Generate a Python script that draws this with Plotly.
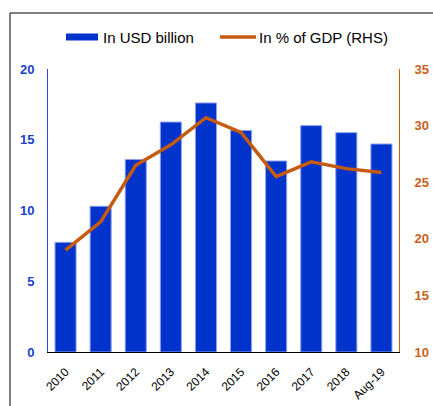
import plotly.graph_objects as go

categories = ["2010", "2011", "2012", "2013", "2014", "2015", "2016", "2017", "2018", "Aug-19"]
usd_billion = [7.75, 10.3, 13.6, 16.25, 17.6, 15.65, 13.5, 16.0, 15.5, 14.7]
pct_gdp = [19.0, 21.5, 26.5, 28.3, 30.7, 29.4, 25.5, 26.8, 26.2, 25.85]

BLUE = "#0033cc"
ORANGE = "#c55a11"
FONT = "Liberation Sans, Arial, sans-serif"

fig = go.Figure()
fig.add_trace(go.Bar(
    x=categories, y=usd_billion, name="In USD billion",
    marker=dict(color=BLUE, line=dict(color="#8fa0ee", width=1)),
    yaxis="y", showlegend=False,
))
fig.add_trace(go.Scatter(
    x=categories, y=pct_gdp, name="In % of GDP (RHS)", mode="lines",
    line=dict(color=ORANGE, width=3.5),
    yaxis="y2", showlegend=False,
))

W, H = 433, 406
L, R, T, B = 48, 399, 69, 352
pw, ph = R - L, B - T

def px(x):
    return (x - L) / pw

def py(y):
    return (B - y) / ph

shapes = [
    # frame border (left and top)
    dict(type="line", xref="paper", yref="paper", x0=px(10), x1=px(10), y0=py(13), y1=py(H + 2),
         line=dict(color="black", width=1)),
    dict(type="line", xref="paper", yref="paper", x0=px(10), x1=px(W + 2), y0=py(13), y1=py(13),
         line=dict(color="black", width=1)),
    # legend symbols
    dict(type="rect", xref="paper", yref="paper", x0=px(66), x1=px(98), y0=py(40.5), y1=py(33.5),
         fillcolor=BLUE, line=dict(width=0)),
    dict(type="line", xref="paper", yref="paper", x0=px(220), x1=px(256), y0=py(37), y1=py(37),
         line=dict(color=ORANGE, width=3.5)),
]
annotations = [
    dict(text="In USD billion", xref="paper", yref="paper", x=px(101), y=py(37),
         xanchor="left", yanchor="middle", showarrow=False,
         font=dict(family=FONT, size=15, color="black")),
    dict(text="In % of GDP (RHS)", xref="paper", yref="paper", x=px(257), y=py(37),
         xanchor="left", yanchor="middle", showarrow=False,
         font=dict(family=FONT, size=15, color="black")),
]

fig.update_layout(
    width=W, height=H,
    margin=dict(l=L, r=W - R, t=T, b=H - B, pad=0, autoexpand=False),
    paper_bgcolor="white", plot_bgcolor="white",
    bargap=0.4,
    font=dict(family=FONT, size=12, color="black"),
    xaxis=dict(
        type="category", tickangle=-45, showgrid=False, automargin=False,
        showline=True, linecolor="black", linewidth=1.2,
        ticks="", ticklabelstandoff=7,
        tickfont=dict(family=FONT, size=12, color="black"),
    ),
    yaxis=dict(
        range=[0, 20], dtick=5, showgrid=False, zeroline=False, automargin=False,
        showline=True, linecolor="#3344ee", linewidth=1,
        ticks="", ticklabelstandoff=10,
        tickfont=dict(family=FONT, size=13, color="#1a3fcc", weight="bold"),
    ),
    yaxis2=dict(
        range=[10, 35], dtick=5, overlaying="y", side="right", showgrid=False, zeroline=False,
        automargin=False,
        showline=True, linecolor=ORANGE, linewidth=1,
        ticks="", ticklabelstandoff=12,
        tickfont=dict(family=FONT, size=13, color="#c8601a", weight="bold"),
    ),
    shapes=shapes,
    annotations=annotations,
)

fig.write_html("out.html")
